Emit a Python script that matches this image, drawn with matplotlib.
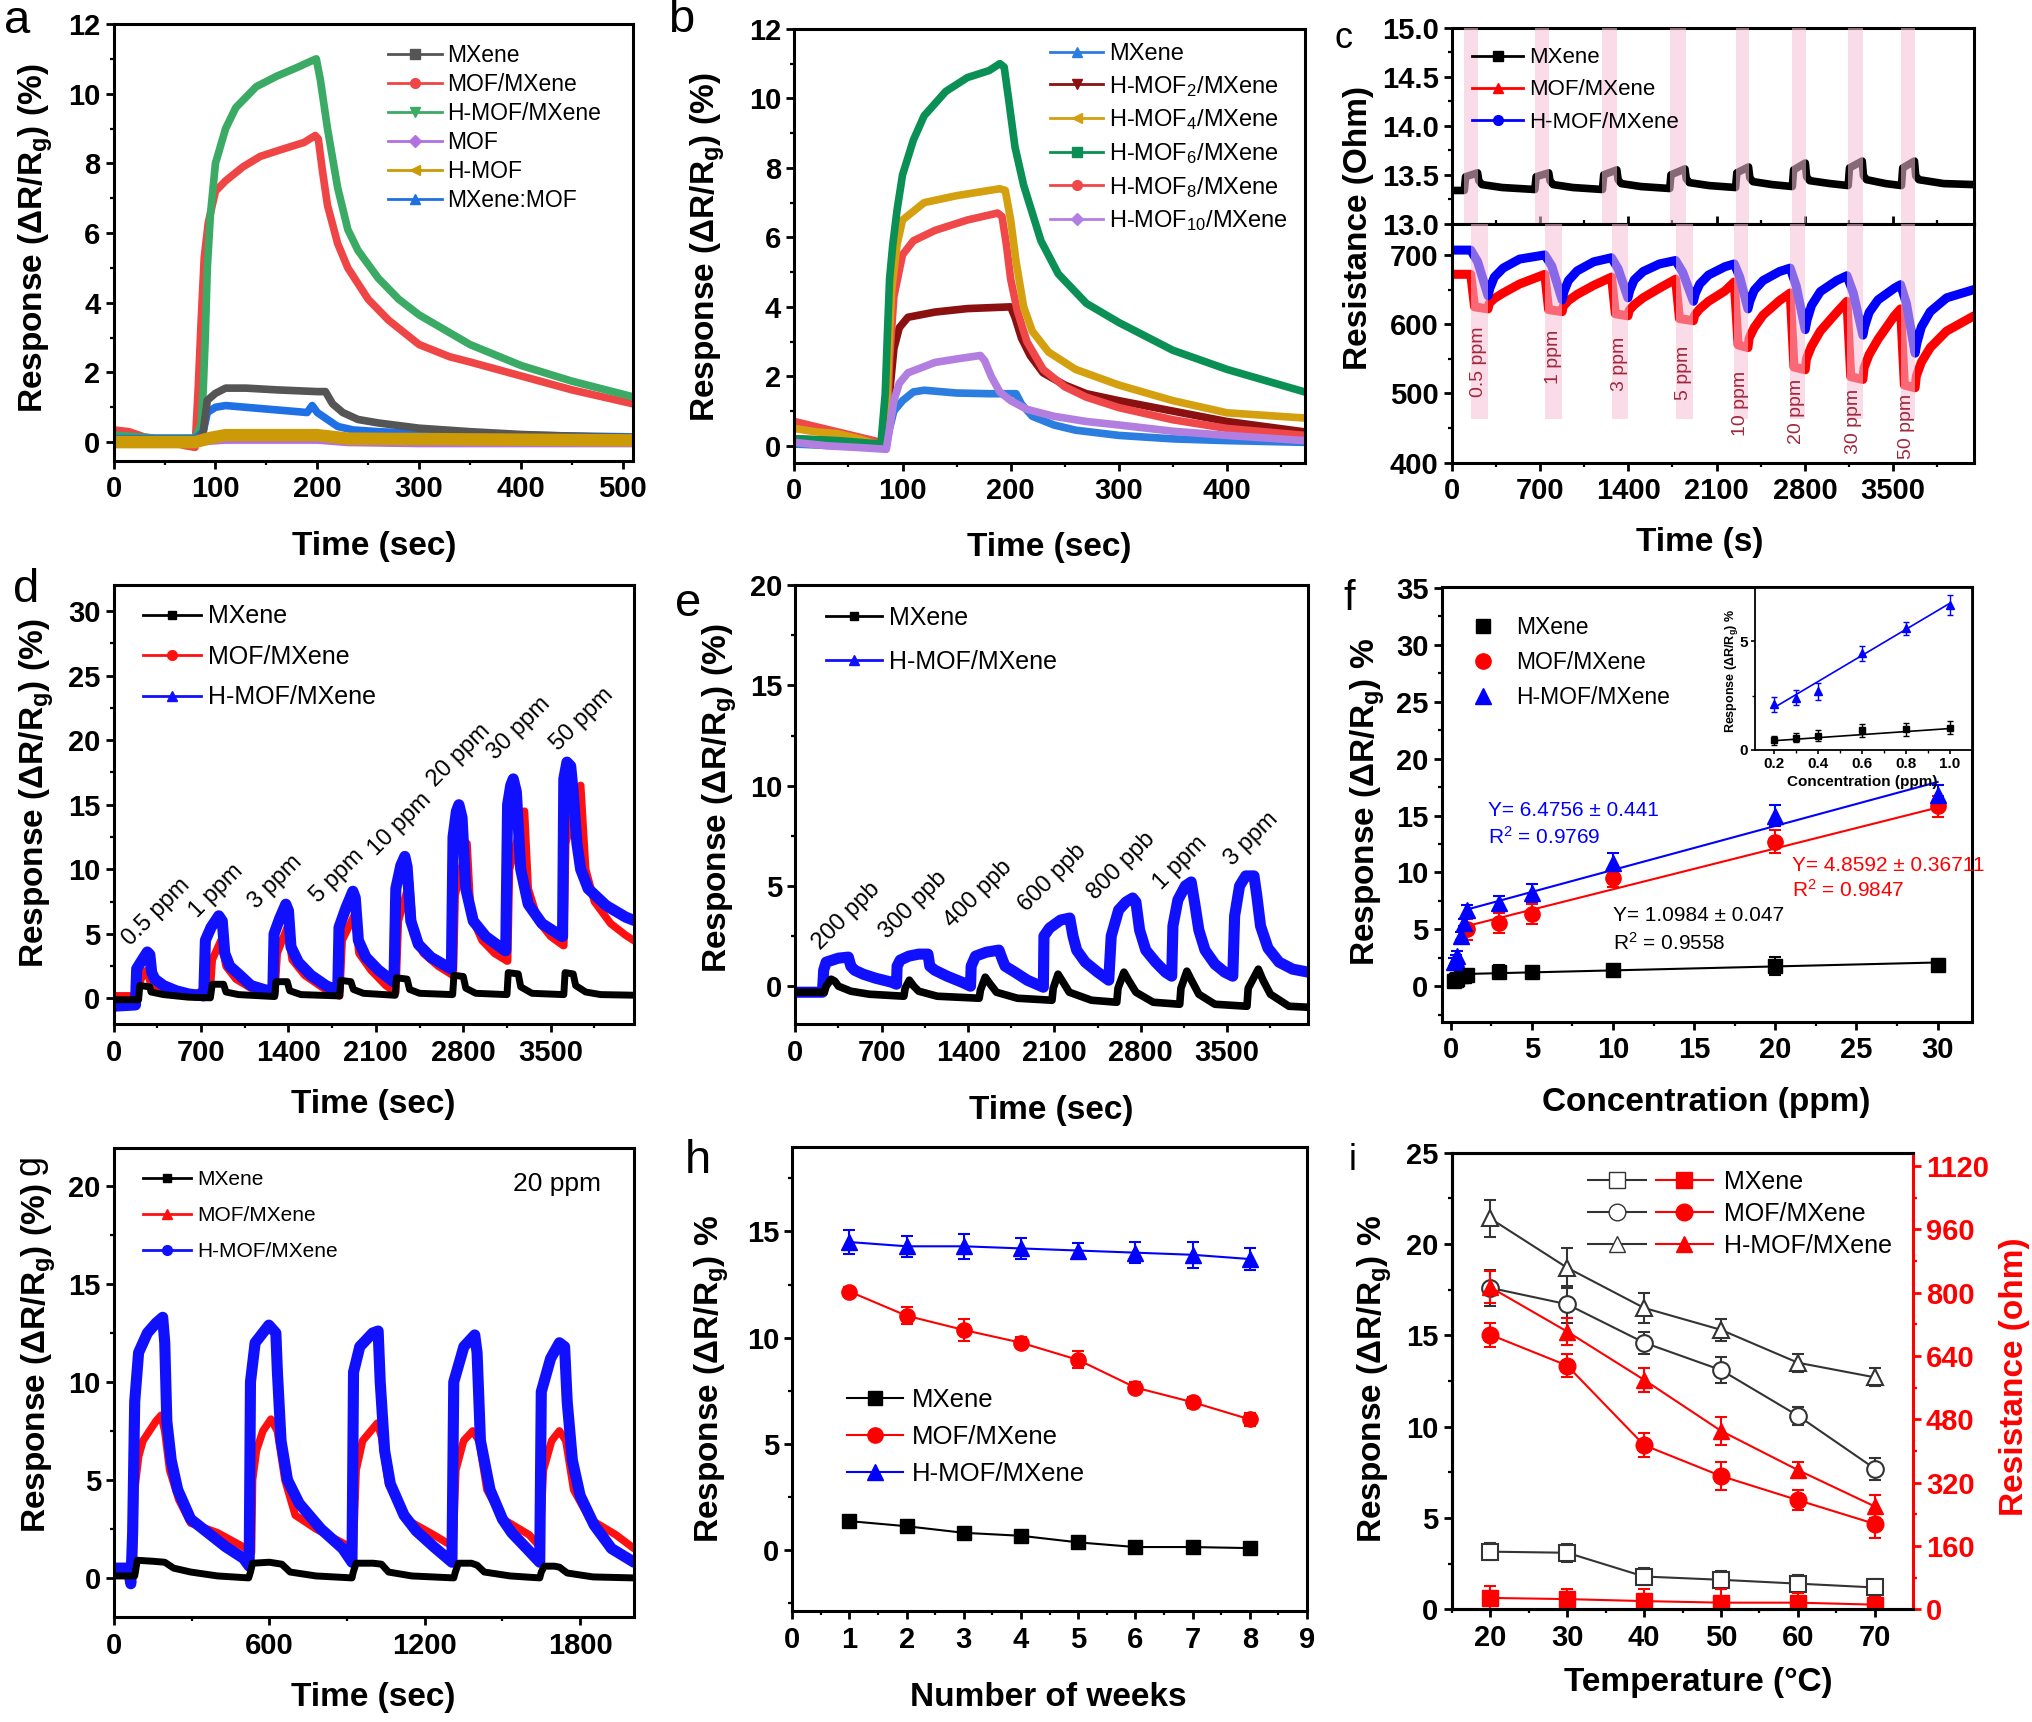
import matplotlib
matplotlib.use("Agg")
import matplotlib.pyplot as plt
from matplotlib.lines import Line2D
from matplotlib.legend_handler import HandlerTuple
from matplotlib.ticker import MultipleLocator, FormatStrFormatter
from matplotlib import font_manager

# ============================ DATA ============================
# ---- panel a : response vs time (sec)
a_t_mx = [0, 40, 85, 88, 92, 100, 110, 130, 160, 200, 208, 215, 225, 240, 260, 300, 350, 400, 450, 510]
a_mx = [0.05, 0.05, 0.08, 0.3, 1.2, 1.4, 1.55, 1.55, 1.5, 1.45, 1.45, 1.1, 0.85, 0.65, 0.55, 0.4, 0.3, 0.22, 0.17, 0.12]
a_t_mof_mx = [0, 15, 30, 50, 70, 80, 83, 86, 89, 93, 100, 110, 127, 144, 165, 187, 198, 201, 205, 210, 220, 230, 250, 270, 300, 330, 350, 400, 450, 510]
a_mof_mx = [0.35, 0.3, 0.15, 0.05, -0.1, -0.15, 1.5, 3.5, 5.3, 6.3, 7.2, 7.5, 7.9, 8.2, 8.4, 8.6, 8.8, 8.7, 7.8, 6.8, 5.7, 5.0, 4.1, 3.5, 2.8, 2.45, 2.3, 1.9, 1.5, 1.1]
a_t_hmof_mx = [0, 40, 80, 86, 88, 90, 92, 95, 100, 110, 120, 140, 160, 180, 195, 199, 203, 210, 220, 230, 240, 260, 280, 300, 350, 400, 450, 510]
a_hmof_mx = [0.2, 0.12, 0.12, 0.5, 1.5, 3.0, 5.0, 6.5, 8.0, 9.0, 9.6, 10.2, 10.5, 10.75, 10.95, 11.0, 10.4, 9.0, 7.3, 6.1, 5.5, 4.7, 4.1, 3.65, 2.8, 2.2, 1.75, 1.3]
a_t_mof = [0, 80, 95, 110, 200, 230, 300, 510]
a_mof = [-0.03, -0.03, 0.02, 0.05, 0.05, -0.02, -0.05, -0.05]
a_t_hmof = [0, 80, 95, 110, 200, 230, 510]
a_hmof = [0.0, 0.0, 0.12, 0.2, 0.2, 0.1, 0.05]
a_t_mxmof = [0, 80, 88, 92, 100, 110, 150, 190, 195, 200, 210, 220, 235, 260, 300, 400, 510]
a_mxmof = [0.1, 0.1, 0.3, 0.85, 1.0, 1.05, 0.95, 0.85, 1.05, 0.85, 0.65, 0.45, 0.35, 0.3, 0.25, 0.2, 0.15]
a_labels = ["MXene", "MOF/MXene", "H-MOF/MXene", "MOF", "H-MOF", "MXene:MOF"]

# ---- panel b
b_t_mx = [0, 40, 85, 88, 92, 100, 110, 120, 150, 180, 205, 210, 220, 240, 260, 300, 350, 400, 472]
b_mx = [0.05, 0.0, 0.0, 0.5, 1.0, 1.3, 1.55, 1.6, 1.52, 1.5, 1.5, 1.2, 0.85, 0.6, 0.45, 0.3, 0.2, 0.15, 0.1]
b_t_h2 = [0, 40, 80, 85, 88, 92, 97, 105, 130, 160, 200, 204, 210, 218, 230, 250, 270, 300, 350, 400, 472]
b_h2 = [0.2, 0.15, 0.05, 0.0, 1.5, 2.8, 3.4, 3.7, 3.85, 3.95, 4.0, 3.7, 3.1, 2.6, 2.1, 1.75, 1.5, 1.3, 1.0, 0.7, 0.4]
b_t_h4 = [0, 20, 40, 60, 80, 84, 87, 90, 95, 100, 120, 150, 190, 195, 200, 205, 212, 220, 235, 260, 300, 350, 400, 472]
b_h4 = [0.5, 0.4, 0.35, 0.2, 0.0, -0.1, 2.5, 4.5, 5.8, 6.5, 7.0, 7.2, 7.4, 7.35, 6.5, 5.3, 4.0, 3.3, 2.7, 2.2, 1.75, 1.3, 0.95, 0.8]
b_t_h6 = [0, 40, 80, 84, 86, 88, 91, 95, 100, 110, 120, 140, 160, 180, 190, 194, 198, 204, 212, 228, 244, 270, 300, 350, 400, 472]
b_h6 = [0.2, 0.15, 0.05, 1.5, 3.2, 4.8, 5.8, 6.8, 7.8, 8.8, 9.5, 10.2, 10.6, 10.8, 11.0, 10.9, 10.0, 8.6, 7.5, 5.9, 4.95, 4.1, 3.55, 2.75, 2.2, 1.55]
b_t_h8 = [0, 20, 40, 60, 80, 85, 88, 92, 100, 110, 130, 160, 188, 192, 196, 200, 206, 215, 230, 250, 270, 300, 350, 400, 472]
b_h8 = [0.7, 0.55, 0.4, 0.25, 0.1, 0.0, 2.5, 4.3, 5.5, 5.9, 6.2, 6.5, 6.7, 6.6, 5.8, 4.8, 3.9, 3.0, 2.2, 1.7, 1.4, 1.1, 0.75, 0.5, 0.3]
b_t_h10 = [0, 30, 60, 85, 88, 92, 97, 105, 130, 150, 172, 176, 182, 190, 200, 215, 240, 270, 300, 350, 400, 472]
b_h10 = [0.1, 0.0, -0.05, -0.1, 0.5, 1.3, 1.8, 2.1, 2.4, 2.5, 2.6, 2.45, 2.0, 1.55, 1.3, 1.05, 0.85, 0.7, 0.6, 0.42, 0.3, 0.15]
b_labels = ["MXene", "H-MOF$_2$/MXene", "H-MOF$_4$/MXene", "H-MOF$_6$/MXene", "H-MOF$_8$/MXene", "H-MOF$_{10}$/MXene"]

# ---- panel c : resistance (Ohm) vs time (s)
c_up_band_start = [100, 659, 1195, 1728, 2250, 2700, 3143, 3565]
c_up_band_end = [210, 774, 1314, 1854, 2358, 2808, 3259, 3673]
c_lo_band_start = [151, 738, 1267, 1775, 2240, 2683, 3133, 3558]
c_lo_band_end = [288, 875, 1397, 1916, 2348, 2802, 3259, 3673]
c_lo_band_bottom = 463
c_t_mx = [0,
          100, 110, 205, 215, 240, 400,
          659, 669, 769, 779, 804, 960,
          1195, 1205, 1309, 1319, 1344, 1500,
          1728, 1738, 1849, 1859, 1884, 2040,
          2250, 2260, 2353, 2363, 2388, 2540,
          2700, 2710, 2803, 2813, 2838, 3000,
          3143, 3153, 3254, 3264, 3289, 3440,
          3565, 3575, 3668, 3678, 3703, 3900, 4140]
c_mx = [13.34,
        13.34, 13.48, 13.52, 13.44, 13.40, 13.37,
        13.35, 13.48, 13.52, 13.44, 13.40, 13.37,
        13.35, 13.50, 13.55, 13.45, 13.41, 13.38,
        13.36, 13.50, 13.56, 13.46, 13.42, 13.39,
        13.37, 13.52, 13.58, 13.47, 13.43, 13.40,
        13.38, 13.55, 13.62, 13.48, 13.44, 13.41,
        13.39, 13.57, 13.64, 13.49, 13.45, 13.41,
        13.39, 13.57, 13.64, 13.49, 13.45, 13.41, 13.40]
c_t_hm = [0, 151, 206, 288, 303, 338, 408, 538,
          738, 793, 875, 890, 925, 995, 1125,
          1267, 1319, 1397, 1412, 1447, 1517, 1647,
          1775, 1831, 1916, 1931, 1966, 2036, 2166,
          2240, 2283, 2348, 2363, 2398, 2468, 2598,
          2683, 2731, 2802, 2817, 2852, 2922, 3052,
          3133, 3183, 3259, 3274, 3309, 3379, 3509,
          3558, 3604, 3673, 3688, 3723, 3793, 3923, 4140]
c_hm = [707, 707, 690, 641, 652, 668, 681, 694,
        700, 684, 635, 647, 663, 677, 690,
        696, 680, 638, 649, 664, 676, 687,
        692, 675, 633, 644, 658, 671, 683,
        687, 668, 622, 633, 649, 663, 676,
        681, 655, 592, 606, 627, 647, 663,
        670, 645, 584, 597, 617, 635, 652,
        657, 630, 558, 573, 596, 618, 638, 650]
c_t_mof = [0, 151, 181, 288, 298, 338, 408, 538,
           738, 768, 875, 885, 925, 995, 1125,
           1267, 1297, 1397, 1407, 1447, 1517, 1647,
           1775, 1805, 1916, 1926, 1966, 2036, 2166,
           2240, 2270, 2348, 2358, 2398, 2468, 2598,
           2683, 2713, 2802, 2812, 2852, 2922, 3052,
           3133, 3163, 3259, 3269, 3309, 3379, 3509,
           3558, 3588, 3673, 3683, 3723, 3793, 3923, 4140]
c_mof = [672, 672, 625, 622, 630, 637, 645, 658,
         672, 621, 618, 626, 634, 643, 656,
         668, 615, 612, 620, 628, 638, 652,
         665, 608, 605, 613, 622, 633, 648,
         661, 570, 566, 580, 595, 613, 634,
         645, 538, 534, 550, 568, 590, 617,
         633, 524, 520, 537, 556, 578, 612,
         622, 512, 508, 525, 545, 566, 590, 612]
c_conc_labels = ["0.5 ppm", "1 ppm", "3 ppm", "5 ppm", "10 ppm", "20 ppm", "30 ppm", "50 ppm"]
c_conc_t = [216, 810, 1332, 1836, 2287, 2737, 3187, 3608]
c_conc_y = [545, 553, 543, 529, 486, 474, 459, 452]

# ---- panel d : dynamic response 0.5-50 ppm
d_t_hm = [0, 175, 185, 230, 270, 290, 305, 330, 400, 500, 600, 718,
          722, 735, 780, 842, 870, 890, 930, 1000, 1100, 1270,
          1275, 1285, 1330, 1379, 1400, 1420, 1480, 1580, 1700, 1790,
          1795, 1805, 1860, 1916, 1935, 1960, 2020, 2120, 2240,
          2245, 2260, 2300, 2332, 2350, 2380, 2440, 2540, 2700,
          2705, 2718, 2745, 2765, 2790, 2820, 2880, 2980, 3135,
          3140, 3155, 3180, 3200, 3225, 3260, 3320, 3430, 3590,
          3595, 3605, 3630, 3660, 3680, 3710, 3740, 3800, 3943, 4100, 4180]
d_hm = [-0.6, -0.5, 2.3, 3.0, 3.6, 3.4, 2.0, 1.5, 1.0, 0.6, 0.35, 0.2,
        0.2, 4.5, 5.5, 6.4, 6.0, 3.5, 2.5, 1.9, 1.0, 0.5,
        0.5, 5.0, 6.2, 7.3, 6.8, 4.0, 2.8, 1.8, 1.0, 0.6,
        0.6, 5.5, 7.0, 8.3, 7.8, 4.5, 3.2, 2.2, 1.3,
        1.3, 8.5, 10.3, 11.0, 10.2, 6.0, 4.2, 3.2, 2.3,
        2.3, 12.5, 14.5, 15.0, 14.0, 8.5, 6.0, 4.8, 3.7,
        3.7, 15.0, 16.5, 17.0, 16.0, 10.0, 7.3, 5.8, 4.8,
        4.8, 17.0, 18.3, 18.0, 16.0, 12.0, 10.0, 8.5, 7.2, 6.3, 6.0]
d_t_mof = [0, 190, 200, 240, 270, 300, 380, 500, 640, 690, 765,
           770, 790, 860, 900, 980, 1100, 1285,
           1290, 1310, 1390, 1430, 1530, 1680, 1805,
           1810, 1830, 1930, 1965, 2060, 2180, 2255,
           2260, 2280, 2370, 2400, 2480, 2600, 2715,
           2720, 2735, 2830, 2860, 2950, 3050, 3150,
           3155, 3170, 3290, 3320, 3400, 3500, 3600,
           3605, 3620, 3740, 3780, 3850, 3980, 4100, 4180]
d_mof = [0.2, 0.2, 1.0, 2.0, 2.2, 1.0, 0.6, 0.3, 0.3, 0.5, 0.2,
         0.2, 3.0, 4.5, 2.5, 1.5, 0.8, 0.3,
         0.3, 3.5, 5.5, 3.0, 1.8, 0.8, 0.2,
         0.2, 4.5, 6.5, 3.5, 2.2, 1.0, 0.5,
         0.5, 6.0, 9.0, 5.0, 3.5, 2.5, 1.8,
         1.8, 8.0, 12.0, 6.5, 4.5, 3.5, 2.9,
         2.9, 10.0, 14.5, 8.5, 6.0, 4.8, 4.1,
         4.1, 12.0, 16.5, 10.0, 7.5, 5.8, 4.9, 4.4]
d_t_mx = [0, 200, 210, 290, 300, 400, 600, 770,
          775, 790, 880, 900, 1000, 1285,
          1290, 1300, 1390, 1410, 1500, 1805,
          1810, 1820, 1900, 1920, 2000, 2250,
          2255, 2265, 2350, 2370, 2450, 2710,
          2715, 2725, 2800, 2820, 2900, 3145,
          3150, 3160, 3240, 3260, 3350, 3600,
          3605, 3615, 3680, 3700, 3780, 3900, 4180]
d_mx = [-0.1, -0.1, 1.0, 0.9, 0.5, 0.3, 0.1, 0.05,
        0.05, 1.1, 1.1, 0.5, 0.3, 0.15,
        0.15, 1.3, 1.3, 0.6, 0.3, 0.2,
        0.2, 1.4, 1.3, 0.7, 0.4, 0.25,
        0.25, 1.6, 1.5, 0.7, 0.4, 0.3,
        0.3, 1.8, 1.7, 0.8, 0.4, 0.3,
        0.3, 2.0, 1.9, 0.9, 0.4, 0.3,
        0.3, 2.0, 1.9, 1.0, 0.5, 0.3, 0.25]
d_conc_labels = ["0.5 ppm", "1 ppm", "3 ppm", "5 ppm", "10 ppm", "20 ppm", "30 ppm", "50 ppm"]
d_conc_t = [340, 825, 1292, 1795, 2297, 2765, 3250, 3752]
d_conc_y = [6.7, 8.3, 9.0, 9.5, 13.5, 18.8, 20.9, 21.6]

# ---- panel e : ppb-level response
e_t_hm = [0, 220, 230, 250, 300, 350, 430, 450, 480, 550, 650, 780, 820,
          825, 850, 920, 1000, 1075, 1090, 1130, 1230, 1350, 1420,
          1425, 1460, 1550, 1650, 1680, 1700, 1780, 1880, 2010,
          2015, 2060, 2150, 2224, 2250, 2280, 2350, 2450, 2540,
          2560, 2620, 2680, 2734, 2760, 2790, 2840, 2920, 3000, 3050,
          3060, 3100, 3160, 3208, 3240, 3270, 3320, 3400, 3480, 3545,
          3560, 3600, 3650, 3717, 3740, 3770, 3830, 3920, 4030, 4157]
e_hm = [-0.3, -0.3, 0.8, 1.2, 1.3, 1.4, 1.45, 1.0, 0.8, 0.6, 0.4, 0.2, 0.1,
        1.0, 1.3, 1.5, 1.6, 1.6, 1.0, 0.8, 0.5, 0.2, 0.0,
        1.0, 1.5, 1.7, 1.8, 1.3, 1.0, 0.7, 0.3, -0.05,
        2.5, 2.9, 3.3, 3.4, 2.5, 1.8, 1.2, 0.7, 0.3,
        2.5, 3.8, 4.2, 4.4, 4.2, 2.8, 1.8, 1.2, 0.7, 0.5,
        3.0, 4.3, 5.0, 5.2, 4.0, 2.8, 1.8, 1.1, 0.7, 0.5,
        3.5, 5.0, 5.5, 5.5, 4.5, 3.0, 1.9, 1.2, 0.85, 0.7]
e_t_mx = [0, 235, 250, 290, 320, 350, 450, 600, 880,
          890, 924, 960, 1000, 1150, 1490,
          1500, 1539, 1580, 1630, 1800, 2080,
          2090, 2129, 2170, 2220, 2400, 2605,
          2615, 2663, 2700, 2760, 2900, 3115,
          3125, 3173, 3210, 3270, 3400, 3660,
          3670, 3752, 3790, 3850, 4000, 4157]
e_mx = [-0.3, -0.3, 0.0, 0.35, 0.25, 0.0, -0.25, -0.4, -0.5,
        -0.1, 0.3, 0.0, -0.25, -0.5, -0.6,
        -0.2, 0.45, 0.1, -0.3, -0.6, -0.7,
        -0.1, 0.6, 0.2, -0.3, -0.7, -0.8,
        -0.1, 0.7, 0.3, -0.3, -0.8, -0.9,
        -0.1, 0.75, 0.3, -0.4, -0.9, -1.0,
        -0.1, 0.85, 0.3, -0.4, -1.0, -1.05]
e_conc_labels = ["200 ppb", "300 ppb", "400 ppb", "600 ppb", "800 ppb", "1 ppm", "3 ppm"]
e_conc_t = [415, 959, 1486, 2084, 2646, 3120, 3700]
e_conc_y = [3.5, 4.05, 4.6, 5.4, 6.0, 6.15, 7.35]

# ---- panel f : response vs concentration
f_conc_low = [0.2, 0.3, 0.4, 0.6, 0.8, 1.0]
f_mx_low = [0.43, 0.56, 0.65, 0.9, 0.94, 1.02]
f_mx_low_err = [0.2, 0.2, 0.25, 0.3, 0.3, 0.3]
f_hm_low = [2.1, 2.4, 2.7, 4.44, 5.6, 6.67]
f_hm_low_err = [0.35, 0.35, 0.4, 0.35, 0.3, 0.45]
f_conc_high = [3, 5, 10, 20, 30]
f_mx_high = [1.3, 1.3, 1.45, 1.8, 1.9]
f_mx_high_err = [0.6, 0.3, 0.4, 0.8, 0.5]
f_hm_high = [7.3, 8.2, 10.8, 15.0, 16.8]
f_hm_high_err = [0.6, 0.8, 0.9, 0.9, 0.9]
f_mof_conc = [1, 3, 5, 10, 20, 30]
f_mof = [5.0, 5.55, 6.35, 9.5, 12.7, 15.8]
f_mof_err = [0.9, 0.9, 0.9, 0.8, 1.0, 0.9]
f_fit_x = [1, 30]
f_fit_hm = [6.75, 17.95]
f_fit_mof = [5.3, 15.7]
f_fit_mx_x = [0.35, 30]
f_fit_mx = [1.07, 2.1]
f_inset_fit_x = [0.2, 1.0]
f_inset_fit_hm = [1.95, 6.75]
f_inset_fit_mx = [0.42, 0.98]

# ---- panel g : repeatability at 20 ppm
g_t_hm = [0, 55, 65, 72, 80, 95, 129, 162, 188, 196, 204, 221, 246, 296, 363, 430, 500, 522,
          527, 545, 598, 625, 631, 645, 670, 715, 799, 883, 919,
          925, 949, 999, 1020, 1028, 1045, 1067, 1120, 1167, 1234, 1305,
          1312, 1351, 1393, 1402, 1415, 1452, 1500, 1536, 1594, 1644,
          1650, 1686, 1720, 1740, 1750, 1770, 1800, 1854, 1921, 2008]
g_hm = [0.5, 0.5, -0.3, 2.3, 9.0, 11.5, 12.5, 13.0, 13.3, 12.0, 8.0, 6.0, 4.5, 3.0, 2.3, 1.6, 1.0, 0.6,
        10.0, 12.0, 12.9, 12.5, 10.5, 7.0, 5.0, 3.8, 2.5, 1.5, 0.8,
        10.5, 11.8, 12.5, 12.6, 10.0, 6.5, 4.8, 3.2, 2.4, 1.6, 0.8,
        10.0, 11.8, 12.4, 11.5, 7.0, 4.5, 3.0, 2.3, 1.5, 0.8,
        9.5, 11.2, 12.0, 11.8, 9.0, 6.0, 4.2, 2.7, 1.5, 0.8]
g_t_mof = [0, 60, 75, 80, 95, 112, 162, 182, 196, 215, 250, 296, 400, 497, 531,
           535, 550, 575, 606, 631, 660, 700, 780, 866, 924,
           935, 960, 1017, 1033, 1060, 1126, 1234, 1309,
           1320, 1350, 1385, 1410, 1440, 1502, 1603, 1644,
           1658, 1690, 1720, 1745, 1775, 1837, 1938, 2008]
g_mof = [0.5, 0.3, 1.0, 4.5, 6.2, 7.0, 8.0, 8.3, 7.5, 5.5, 4.0, 2.8, 2.3, 1.6, 1.3,
         5.0, 6.5, 7.5, 8.1, 7.5, 5.0, 3.2, 2.5, 1.9, 1.5,
         5.5, 7.0, 7.9, 7.2, 4.8, 3.0, 2.2, 1.6,
         5.5, 7.0, 7.5, 7.0, 4.5, 3.0, 2.2, 1.6,
         5.5, 7.0, 7.5, 7.0, 4.5, 3.0, 2.2, 1.5]
g_t_mx = [0, 80, 90, 150, 196, 230, 296, 400, 520,
          527, 535, 600, 648, 680, 780, 919,
          924, 935, 1000, 1033, 1060, 1150, 1312,
          1318, 1330, 1380, 1402, 1430, 1530, 1644,
          1650, 1662, 1700, 1720, 1750, 1850, 2008]
g_mx = [0.1, 0.1, 0.9, 0.85, 0.8, 0.5, 0.3, 0.1, 0.0,
        0.3, 0.75, 0.8, 0.7, 0.3, 0.1, 0.0,
        0.3, 0.75, 0.75, 0.7, 0.3, 0.1, 0.0,
        0.3, 0.75, 0.75, 0.65, 0.3, 0.1, 0.0,
        0.3, 0.6, 0.6, 0.55, 0.25, 0.05, 0.0]

# ---- panel h : long-term stability
h_weeks = [1, 2, 3, 4, 5, 6, 7, 8]
h_mx = [1.36, 1.12, 0.81, 0.67, 0.36, 0.14, 0.14, 0.09]
h_mx_err = [0.15, 0.15, 0.12, 0.12, 0.12, 0.1, 0.1, 0.1]
h_mof = [12.17, 11.03, 10.36, 9.76, 8.95, 7.65, 6.96, 6.15]
h_mof_err = [0.2, 0.4, 0.5, 0.25, 0.4, 0.25, 0.25, 0.3]
h_hm = [14.5, 14.3, 14.3, 14.2, 14.1, 14.0, 13.9, 13.7]
h_hm_err = [0.55, 0.5, 0.6, 0.5, 0.35, 0.5, 0.6, 0.5]

# ---- panel i : temperature dependence
i_temp = [20, 30, 40, 50, 60, 70]
i_resp_mx = [3.16, 3.1, 1.8, 1.62, 1.41, 1.2]
i_resp_mx_err = [0.45, 0.5, 0.45, 0.5, 0.45, 0.45]
i_resp_mof = [17.6, 16.7, 14.6, 13.1, 10.6, 7.7]
i_resp_mof_err = [1.0, 1.0, 0.6, 0.7, 0.5, 0.6]
i_resp_hm = [21.4, 18.7, 16.5, 15.3, 13.5, 12.7]
i_resp_hm_err = [1.0, 1.1, 0.8, 0.6, 0.5, 0.5]
i_res_mx = [29, 26, 21, 17, 17, 12]
i_res_mx_err = [30, 25, 30, 35, 25, 20]
i_res_mof = [694, 616, 415, 337, 276, 216]
i_res_mof_err = [30, 30, 30, 35, 25, 35]
i_res_hm = [814, 702, 580, 451, 352, 260]
i_res_hm_err = [40, 35, 30, 35, 20, 30]
labels3 = ["MXene", "MOF/MXene", "H-MOF/MXene"]

# ============================ STYLE ============================
W, H, DPI = 2032, 1722, 100
_names = {f.name for f in font_manager.fontManager.ttflist}
SANS = "Liberation Sans" if "Liberation Sans" in _names else "DejaVu Sans"
NARROW = "Liberation Sans Narrow" if "Liberation Sans Narrow" in _names else SANS

plt.rcParams.update({
    "font.family": [SANS, "DejaVu Sans"],
    "font.weight": "bold",
    "mathtext.default": "regular",
    "axes.linewidth": 2.2,
    "xtick.direction": "out", "ytick.direction": "out",
    "xtick.major.size": 5.5, "ytick.major.size": 5.5,
    "xtick.minor.size": 3.0, "ytick.minor.size": 3.0,
    "xtick.major.width": 2.0, "ytick.major.width": 2.0,
    "xtick.minor.width": 1.6, "ytick.minor.width": 1.6,
    "xtick.major.pad": 5, "ytick.major.pad": 4,
    "xtick.labelsize": 21, "ytick.labelsize": 21,
    "legend.numpoints": 1,
})

fig = plt.figure(figsize=(W / DPI, H / DPI), dpi=DPI)
fig.patch.set_facecolor("white")


def add_ax(x0, y0, x1, y1):
    return fig.add_axes([x0 / W, 1 - y1 / H, (x1 - x0) / W, (y1 - y0) / H])


def ticks(ax, xmaj, xmin, ymaj, ymin):
    ax.xaxis.set_major_locator(MultipleLocator(xmaj))
    ax.xaxis.set_minor_locator(MultipleLocator(xmin))
    ax.yaxis.set_major_locator(MultipleLocator(ymaj))
    ax.yaxis.set_minor_locator(MultipleLocator(ymin))


def xlab(ax, s, x, y, fs=24):
    ax.set_xlabel(s, fontsize=fs, fontweight="bold")
    ax.xaxis.set_label_coords(x / W, 1 - y / H, transform=fig.transFigure)
    ax.xaxis.label.set_va("center")


def ylab(ax, s, x, y, fs=24, color="black"):
    ax.set_ylabel(s, fontsize=fs, fontweight="bold", color=color)
    ax.yaxis.set_label_coords(x / W, 1 - y / H, transform=fig.transFigure)
    ax.yaxis.label.set_va("center")


def leg(ax, handles, labels, x, yc, fs, lsp, hl, htp, **kw):
    fs_px = fs * DPI / 72.0
    top = yc - 0.45 * fs_px
    return ax.legend(handles, labels, loc="upper left",
                     bbox_to_anchor=(x / W, 1 - top / H), bbox_transform=fig.transFigure,
                     frameon=False, borderpad=0, borderaxespad=0,
                     prop={"family": SANS, "weight": "normal", "size": fs},
                     labelspacing=lsp, handlelength=hl, handletextpad=htp, **kw)


def hnd(color, marker, ms=7, lw=2.0, mfc=None, ls="-"):
    return Line2D([], [], color=color, lw=lw, ls=ls, marker=marker, ms=ms,
                  mfc=color if mfc is None else mfc, mec=color)


def ts(ax, t, y, color, lw, z=2):
    ax.plot(t, y, color=color, lw=lw, solid_joinstyle="round", solid_capstyle="round", zorder=z)


def letter(s, x, y, fs=34, rot=0):
    fig.text(x / W, 1 - y / H, s, fontsize=fs, fontweight="normal", ha="center", va="center", rotation=rot)


RESP = "Response (ΔR/R$_g$) (%)"
RESP2 = "Response (ΔR/R$_g$) %"

# ============================ PANEL a ============================
C_GRAY, C_RED_A, C_GRN_A, C_PUR_A, C_GLD_A, C_BLU_A = "#555555", "#ef4545", "#3aaa64", "#b270e0", "#cc9a06", "#1f6fe5"
ax = add_ax(113.6, 24, 633, 460.6)
ts(ax, a_t_mof_mx, a_mof_mx, C_RED_A, 5.5)
ts(ax, a_t_hmof_mx, a_hmof_mx, C_GRN_A, 5.5)
ts(ax, a_t_mxmof, a_mxmof, C_BLU_A, 5.5)
ts(ax, a_t_mx, a_mx, C_GRAY, 5.5)
ts(ax, a_t_mof, a_mof, C_PUR_A, 5)
ts(ax, a_t_hmof, a_hmof, C_GLD_A, 9)
ax.set_xlim(0, 510)
ax.set_ylim(-0.53, 12)
ticks(ax, 100, 50, 2, 1)
xlab(ax, "Time (sec)", 374, 546)
ylab(ax, RESP, 36, 238)
leg(ax, [hnd(C_GRAY, "s"), hnd(C_RED_A, "o"), hnd(C_GRN_A, "v"), hnd(C_PUR_A, "D", ms=6),
         hnd(C_GLD_A, "<"), hnd(C_BLU_A, "^")], a_labels, 388, 54.5, 16.5, 0.26, 2.35, 0.25)
letter("a", 17, 21)

# ============================ PANEL b ============================
C_BLU_B, C_DRD_B, C_GLD_B, C_GRN_B, C_RED_B, C_PUR_B = "#2b7de0", "#8b1010", "#d4a010", "#0a8f55", "#f04848", "#b27fe0"
ax = add_ax(794.4, 28.9, 1304.8, 462.5)
ts(ax, b_t_mx, b_mx, C_BLU_B, 5.5)
ts(ax, b_t_h2, b_h2, C_DRD_B, 5.5)
ts(ax, b_t_h8, b_h8, C_RED_B, 5.5)
ts(ax, b_t_h4, b_h4, C_GLD_B, 5.5)
ts(ax, b_t_h6, b_h6, C_GRN_B, 5.5)
ts(ax, b_t_h10, b_h10, C_PUR_B, 5.5)
ax.set_xlim(0, 472)
ax.set_ylim(-0.48, 12)
ticks(ax, 100, 50, 2, 1)
xlab(ax, "Time (sec)", 1049, 547.5)
ylab(ax, RESP, 707.7, 247)
leg(ax, [hnd(C_BLU_B, "^"), hnd(C_DRD_B, "v"), hnd(C_GLD_B, "<"), hnd(C_GRN_B, "s"),
         hnd(C_RED_B, "o"), hnd(C_PUR_B, "D", ms=6)], b_labels, 1050, 53.6, 17, 0.37, 2.25, 0.25)
letter("b", 681, 20)

# ============================ PANEL c ============================
PINK = "#f7bed6"
axu = add_ax(1451.7, 27.7, 1974, 223.8)
axl = add_ax(1451.7, 223.8, 1974, 462.5)
ts(axu, c_t_mx, c_mx, "black", 5.5)
for s, e in zip(c_up_band_start, c_up_band_end):
    axu.axvspan(s, e, color=PINK, alpha=0.55, lw=0, zorder=3)
axu.set_xlim(0, 4140)
axu.set_ylim(13.0, 15.0)
ticks(axu, 700, 350, 0.5, 0.25)
axu.yaxis.set_major_formatter(FormatStrFormatter("%.1f"))
axu.tick_params(axis="x", which="both", labelbottom=False, direction="in")
ts(axl, c_t_mof, c_mof, "#ff0000", 6.5)
ts(axl, c_t_hm, c_hm, "#0000ff", 6.5)
for s, e in zip(c_lo_band_start, c_lo_band_end):
    axl.fill_between([s, e], c_lo_band_bottom, 745, color=PINK, alpha=0.55, lw=0, zorder=3)
for lbl, t, y in zip(c_conc_labels, c_conc_t, c_conc_y):
    axl.text(t, y, lbl, rotation=90, ha="center", va="center", fontsize=14,
             fontweight="normal", color="#a0283c", zorder=5)
axl.set_xlim(0, 4140)
axl.set_ylim(400, 745)
ticks(axl, 700, 350, 100, 50)
xlab(axl, "Time (s)", 1700, 542)
fig.text(1358.6 / W, 1 - 227.5 / H, "Resistance (Ohm)", rotation=90, fontsize=24,
         fontweight="bold", ha="center", va="center")
leg(axu, [hnd("black", "s"), hnd("#ff0000", "^"), hnd("#0000ff", "o")], labels3,
    1472, 57.3, 16, 0.5, 2.3, 0.25)
letter("c", 1343, 39, fs=26)

# ============================ PANEL d ============================
ax = add_ax(113.6, 585.2, 634, 1024.3)
ts(ax, d_t_mof, d_mof, "#ff1010", 5.5)
ts(ax, d_t_hm, d_hm, "#1010ff", 8)
ts(ax, d_t_mx, d_mx, "black", 5)
for lbl, t, y in zip(d_conc_labels, d_conc_t, d_conc_y):
    ax.text(t, y, lbl, rotation=45, ha="center", va="center", fontsize=17, fontweight="normal")
ax.set_xlim(0, 4167)
ax.set_ylim(-2, 32)
ticks(ax, 700, 350, 5, 2.5)
xlab(ax, "Time (sec)", 373, 1104)
ylab(ax, RESP, 37, 793)
leg(ax, [hnd("black", "s", ms=6), hnd("#ff1010", "o"), hnd("#1010ff", "^")], labels3,
    143, 615.5, 18, 0.66, 2.32, 0.26)
letter("d", 26, 589.5)

# ============================ PANEL e ============================
ax = add_ax(795.3, 585.2, 1308.3, 1024.3)
ts(ax, e_t_hm, e_hm, "#1010ff", 8)
ts(ax, e_t_mx, e_mx, "black", 5.5)
for lbl, t, y in zip(e_conc_labels, e_conc_t, e_conc_y):
    ax.text(t, y, lbl, rotation=45, ha="center", va="center", fontsize=17, fontweight="normal")
ax.set_xlim(0, 4157)
ax.set_ylim(-1.9, 20.0)
ticks(ax, 700, 350, 5, 2.5)
xlab(ax, "Time (sec)", 1051, 1111)
ylab(ax, RESP, 720, 798.6)
leg(ax, [hnd("black", "s", ms=6), hnd("#1010ff", "^")], ["MXene", "H-MOF/MXene"],
    826, 617.3, 18, 0.8, 2.24, 0.28)
letter("e", 688, 604)

# ============================ PANEL f ============================
ax = add_ax(1441.7, 586.6, 1971.7, 1021.7)
ax.plot(f_fit_x, f_fit_hm, color="#0000ff", lw=1.5, zorder=2)
ax.plot(f_fit_x, f_fit_mof, color="#ff0000", lw=1.5, zorder=2)
ax.plot(f_fit_mx_x, f_fit_mx, color="black", lw=1.5, zorder=2)
ekw = dict(ls="none", elinewidth=1.5, capsize=4, capthick=1.5, zorder=3)
ax.errorbar(f_conc_low + f_conc_high, f_mx_low + f_mx_high, yerr=f_mx_low_err + f_mx_high_err,
            color="black", marker="s", ms=10, **ekw)
ax.errorbar(f_mof_conc, f_mof, yerr=f_mof_err, color="#ff0000", marker="o", ms=11, **ekw)
ax.errorbar(f_conc_low + f_conc_high, f_hm_low + f_hm_high, yerr=f_hm_low_err + f_hm_high_err,
            color="#0000ff", marker="^", ms=11, **ekw)
tkw = dict(fontsize=15, fontweight="normal", family=NARROW, va="center", ha="left")
ax.text(2.3, 15.4, "Y= 6.4756 ± 0.441", color="#0000ff", **tkw)
ax.text(2.3, 13.15, "R$^2$ = 0.9769", color="#0000ff", **tkw)
ax.text(21.0, 10.65, "Y= 4.8592 ± 0.36711", color="#ff0000", **tkw)
ax.text(21.0, 8.45, "R$^2$ = 0.9847", color="#ff0000", **tkw)
ax.text(10.0, 6.2, "Y= 1.0984 ± 0.047", color="black", **tkw)
ax.text(10.0, 3.83, "R$^2$ = 0.9558", color="black", **tkw)
ax.set_xlim(-0.56, 32.1)
ax.set_ylim(-3.1, 35.1)
ticks(ax, 5, 2.5, 5, 2.5)
xlab(ax, "Concentration (ppm)", 1706, 1102)
ylab(ax, RESP2, 1367.7, 802)
leg(ax, [Line2D([], [], ls="none", marker="s", color="black", ms=10),
         Line2D([], [], ls="none", marker="o", color="#ff0000", ms=11),
         Line2D([], [], ls="none", marker="^", color="#0000ff", ms=11)], labels3,
    1472, 625.9, 16.5, 0.53, 1.0, 0.92)
letter("f", 1349, 599, fs=30)

axin = add_ax(1755, 587.7, 1971.7, 749.8)
axin.plot(f_inset_fit_x, f_inset_fit_hm, color="#0000ff", lw=1.2)
axin.plot(f_inset_fit_x, f_inset_fit_mx, color="black", lw=1.2)
ikw = dict(ls="none", elinewidth=1.0, capsize=2.5, capthick=1.0)
axin.errorbar(f_conc_low, f_hm_low, yerr=f_hm_low_err, color="#0000ff", marker="^", ms=6, **ikw)
axin.errorbar(f_conc_low, f_mx_low, yerr=f_mx_low_err, color="black", marker="s", ms=5, **ikw)
axin.set_xlim(0.112, 1.1)
axin.set_ylim(0, 7.47)
ticks(axin, 0.2, 0.1, 5, 2.5)
axin.xaxis.set_major_formatter(FormatStrFormatter("%.1f"))
for sp in axin.spines.values():
    sp.set_linewidth(1.3)
axin.tick_params(which="major", length=3, width=1.2, labelsize=11, pad=2)
axin.tick_params(which="minor", length=2, width=1.0)
for tl in axin.get_xticklabels() + axin.get_yticklabels():
    tl.set_family(NARROW)
axin.set_xlabel("Concentration (ppm)", fontsize=11, fontweight="bold", family=NARROW)
axin.xaxis.set_label_coords(1862.7 / W, 1 - 782 / H, transform=fig.transFigure)
axin.xaxis.label.set_va("center")
axin.set_ylabel(RESP2, fontsize=9, fontweight="bold", family=NARROW)
axin.yaxis.set_label_coords(1731 / W, 1 - 671 / H, transform=fig.transFigure)
axin.yaxis.label.set_va("center")

# ============================ PANEL g ============================
ax = add_ax(114, 1147.6, 634, 1617.1)
ts(ax, g_t_mof, g_mof, "#ff1010", 5.5)
ts(ax, g_t_hm, g_hm, "#1010ff", 8)
ts(ax, g_t_mx, g_mx, "black", 5)
ax.text(1710, 20.1, "20 ppm", ha="center", va="center", fontsize=19, fontweight="normal")
ax.set_xlim(0, 2008)
ax.set_ylim(-2, 21.96)
ticks(ax, 600, 300, 5, 2.5)
xlab(ax, "Time (sec)", 373, 1697.7)
ylab(ax, RESP, 39, 1358)
leg(ax, [hnd("black", "s", ms=6), hnd("#ff1010", "^"), hnd("#1010ff", "o")], labels3,
    143, 1179.5, 15, 0.82, 2.3, 0.29)
letter("g", 30, 1165, fs=26, rot=90)

# ============================ PANEL h ============================
ax = add_ax(792.3, 1146.9, 1307, 1611.4)
lkw = dict(lw=1.5, elinewidth=1.5, capsize=4, capthick=1.5)
ax.errorbar(h_weeks, h_mx, yerr=h_mx_err, color="black", marker="s", ms=10, **lkw)
ax.errorbar(h_weeks, h_mof, yerr=h_mof_err, color="#ff0000", marker="o", ms=11, **lkw)
ax.errorbar(h_weeks, h_hm, yerr=h_hm_err, color="#0000ff", marker="^", ms=11, **lkw)
ax.set_xlim(0, 9)
ax.set_ylim(-2.89, 18.98)
ticks(ax, 1, 0.5, 5, 2.5)
xlab(ax, "Number of weeks", 1048, 1697.7)
ylab(ax, RESP2, 712, 1379)
leg(ax, [hnd("black", "s", ms=10, lw=1.5), hnd("#ff0000", "o", ms=11, lw=1.5),
         hnd("#0000ff", "^", ms=11, lw=1.5)], labels3, 846.5, 1399.5, 18.5, 0.5, 2.2, 0.33)
letter("h", 698, 1161)

# ============================ PANEL i ============================
ax = add_ax(1451.7, 1152.6, 1912.6, 1609.4)
ax2 = ax.twinx()
okw = dict(lw=1.5, elinewidth=1.5, capsize=4, capthick=1.5, mfc="white", mew=1.5)
ax.errorbar(i_temp, i_resp_mx, yerr=i_resp_mx_err, color="#333333", marker="s", ms=11, **okw)
ax.errorbar(i_temp, i_resp_mof, yerr=i_resp_mof_err, color="#333333", marker="o", ms=12, **okw)
ax.errorbar(i_temp, i_resp_hm, yerr=i_resp_hm_err, color="#333333", marker="^", ms=12, **okw)
rkw = dict(lw=1.5, elinewidth=1.5, capsize=4, capthick=1.5)
ax2.errorbar(i_temp, i_res_mx, yerr=i_res_mx_err, color="#ff0000", marker="s", ms=11, **rkw)
ax2.errorbar(i_temp, i_res_mof, yerr=i_res_mof_err, color="#ff0000", marker="o", ms=12, **rkw)
ax2.errorbar(i_temp, i_res_hm, yerr=i_res_hm_err, color="#ff0000", marker="^", ms=12, **rkw)
ax.set_xlim(15, 74.9)
ax.set_ylim(0, 25)
ax2.set_ylim(0, 1154)
ticks(ax, 10, 5, 5, 2.5)
ax2.yaxis.set_major_locator(MultipleLocator(160))
ax2.yaxis.set_minor_locator(MultipleLocator(80))
ax2.tick_params(axis="y", which="both", colors="#ff0000")
ax2.spines["right"].set_color("#ff0000")
ax.spines["right"].set_visible(False)
xlab(ax, "Temperature (°C)", 1698, 1682)
ylab(ax, RESP2, 1374.5, 1379)
ylab(ax2, "Resistance (ohm)", 2014.6, 1377, color="#ff0000")
ax2.yaxis.label.set_rotation(90)
hi = [(hnd("#333333", "s", ms=11, lw=1.5, mfc="white"), hnd("#ff0000", "s", ms=11, lw=1.5)),
      (hnd("#333333", "o", ms=12, lw=1.5, mfc="white"), hnd("#ff0000", "o", ms=12, lw=1.5)),
      (hnd("#333333", "^", ms=12, lw=1.5, mfc="white"), hnd("#ff0000", "^", ms=12, lw=1.5))]
leg(ax2, hi, labels3, 1588, 1181.4, 18, 0.32, 5.0, 0.44,
    handler_map={tuple: HandlerTuple(ndivide=None, pad=0.4)})
letter("i", 1353, 1160, fs=26)

fig.savefig("out.png", dpi=DPI, facecolor="white")
